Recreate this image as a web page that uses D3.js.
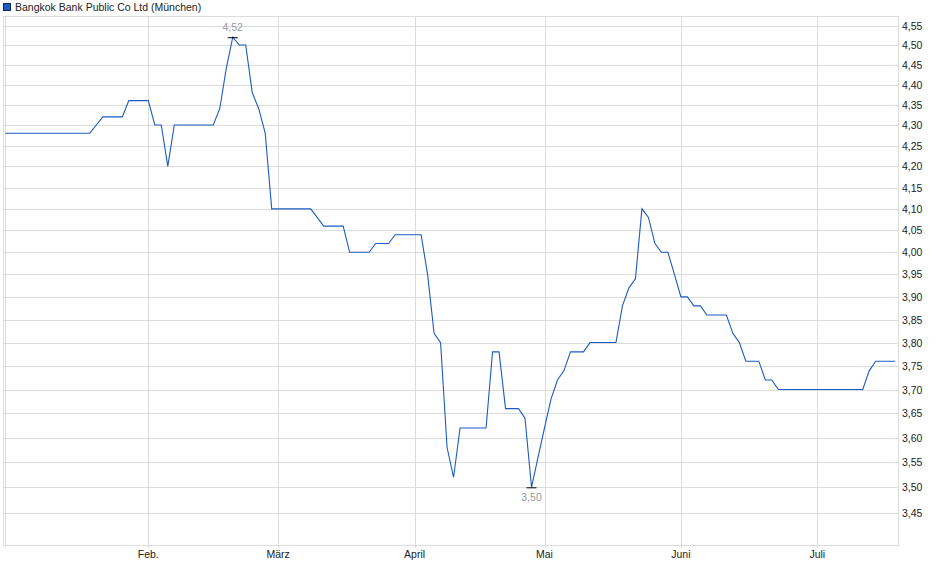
<!DOCTYPE html>
<html>
<head>
<meta charset="utf-8">
<script src="https://cdn.jsdelivr.net/npm/d3@7"></script>
<style>
  html, body { margin: 0; padding: 0; background: #fff; }
  svg { display: block; }
  text { font-family: "Liberation Sans", Arial, sans-serif; }
</style>
</head>
<body>
<svg id="chart" width="940" height="579"></svg>
<script>
// Trading-day closing prices, 2 Jan 2025 .. 17 Jul 2025 (one value per trading day)
const title = "Bangkok Bank Public Co Ltd (München)";
const prices = [
  4.28, 4.28, 4.28, 4.28, 4.28, 4.28, 4.28, 4.28, 4.28, 4.28, // 0-9
  4.28, 4.28, 4.28, 4.28, 4.30, 4.32, 4.32, 4.32, 4.32, 4.36, // 10-19
  4.36, 4.36, 4.36, 4.30, 4.30, 4.20, 4.30, 4.30, 4.30, 4.30, // 20-29
  4.30, 4.30, 4.30, 4.34, 4.44, 4.52, 4.50, 4.50, 4.38, 4.34, // 30-39
  4.28, 4.10, 4.10, 4.10, 4.10, 4.10, 4.10, 4.10, 4.08, 4.06, // 40-49
  4.06, 4.06, 4.06, 4.00, 4.00, 4.00, 4.00, 4.02, 4.02, 4.02, // 50-59
  4.04, 4.04, 4.04, 4.04, 4.04, 3.95, 3.82, 3.80, 3.58, 3.52, // 60-69
  3.62, 3.62, 3.62, 3.62, 3.62, 3.78, 3.78, 3.66, 3.66, 3.66, // 70-79
  3.64, 3.50, 3.56, 3.62, 3.68, 3.72, 3.74, 3.78, 3.78, 3.78, // 80-89
  3.80, 3.80, 3.80, 3.80, 3.80, 3.88, 3.92, 3.94, 4.10, 4.08, // 90-99
  4.02, 4.00, 4.00, 3.95, 3.90, 3.90, 3.88, 3.88, 3.86, 3.86, // 100-109
  3.86, 3.86, 3.82, 3.80, 3.76, 3.76, 3.76, 3.72, 3.72, 3.70, // 110-119
  3.70, 3.70, 3.70, 3.70, 3.70, 3.70, 3.70, 3.70, 3.70, 3.70, // 120-129
  3.70, 3.70, 3.70, 3.74, 3.76, 3.76, 3.76, 3.76              // 130-137
];
// Month labels and the trading-day index of the first trading day of each month
const monthLabels = ["Feb.", "März", "April", "Mai", "Juni", "Juli"];
const monthIndex  = [22, 42, 63, 83, 104, 125];
// Y-axis tick values
const yTicks = [3.45, 3.50, 3.55, 3.60, 3.65, 3.70, 3.75, 3.80, 3.85, 3.90, 3.95,
                4.00, 4.05, 4.10, 4.15, 4.20, 4.25, 4.30, 4.35, 4.40, 4.45, 4.50, 4.55];

const svg = d3.select("#chart");
const plot = { left: 3, right: 898, top: 16, bottom: 545 };

const x = d3.scaleLinear().domain([22, 125]).range([148.3, 817.3]);
const y = d3.scaleLog().domain([3.5, 4.5]).range([487.3, 45]);

const fmt = v => d3.format(".2f")(v).replace(".", ",");
const grid = "#dcdcdc";
const fs = 10.5;

// frame
svg.append("rect")
  .attr("x", plot.left + 0.5).attr("y", plot.top + 0.5)
  .attr("width", plot.right - plot.left).attr("height", plot.bottom - plot.top)
  .attr("fill", "#fff").attr("stroke", grid).attr("stroke-width", 1);

// horizontal grid
svg.append("g").selectAll("line").data(yTicks).join("line")
  .attr("x1", plot.left).attr("x2", plot.right)
  .attr("y1", d => Math.round(y(d)) + 0.5).attr("y2", d => Math.round(y(d)) + 0.5)
  .attr("stroke", grid).attr("stroke-width", 1);

// vertical grid (start line + months)
const vIdx = [0].concat(monthIndex);
svg.append("g").selectAll("line").data(vIdx).join("line")
  .attr("x1", d => Math.round(x(d)) + 0.5).attr("x2", d => Math.round(x(d)) + 0.5)
  .attr("y1", plot.top).attr("y2", plot.bottom + 3)
  .attr("stroke", grid).attr("stroke-width", 1);

// y labels
svg.append("g").selectAll("text").data(yTicks).join("text")
  .attr("x", 902).attr("y", d => y(d) + 4)
  .attr("font-size", fs).attr("fill", "#222")
  .text(d => fmt(d));

// x labels
svg.append("g").selectAll("text").data(monthIndex).join("text")
  .attr("x", d => x(d)).attr("y", 558)
  .attr("text-anchor", "middle")
  .attr("font-size", fs).attr("fill", "#222")
  .text((d, i) => monthLabels[i]);

// price line
const line = d3.line().x((d, i) => x(i)).y(d => y(d));
svg.append("path").datum(prices)
  .attr("d", line)
  .attr("fill", "none").attr("stroke", "#1c5bc4").attr("stroke-width", 1.1);

// max / min markers
const maxV = d3.max(prices), minV = d3.min(prices);
const maxI = prices.indexOf(maxV), minI = prices.indexOf(minV);
[[maxI, maxV, -6], [minI, minV, 14]].forEach(([i, v, dy]) => {
  svg.append("line")
    .attr("x1", x(i) - 5).attr("x2", x(i) + 5)
    .attr("y1", y(v) + 0.5).attr("y2", y(v) + 0.5)
    .attr("stroke", "#000").attr("stroke-width", 1);
  svg.append("text")
    .attr("x", x(i)).attr("y", y(v) + dy)
    .attr("text-anchor", "middle")
    .attr("font-size", fs).attr("fill", "#9a9a9a")
    .text(fmt(v));
});

// legend
svg.append("rect").attr("x", 3.5).attr("y", 3.5).attr("width", 7).attr("height", 7)
  .attr("fill", "#1c5bc4").attr("stroke", "#0a2a66").attr("stroke-width", 1);
svg.append("text").attr("x", 15).attr("y", 11)
  .attr("font-size", fs).attr("fill", "#222").text(title);
</script>
</body>
</html>
